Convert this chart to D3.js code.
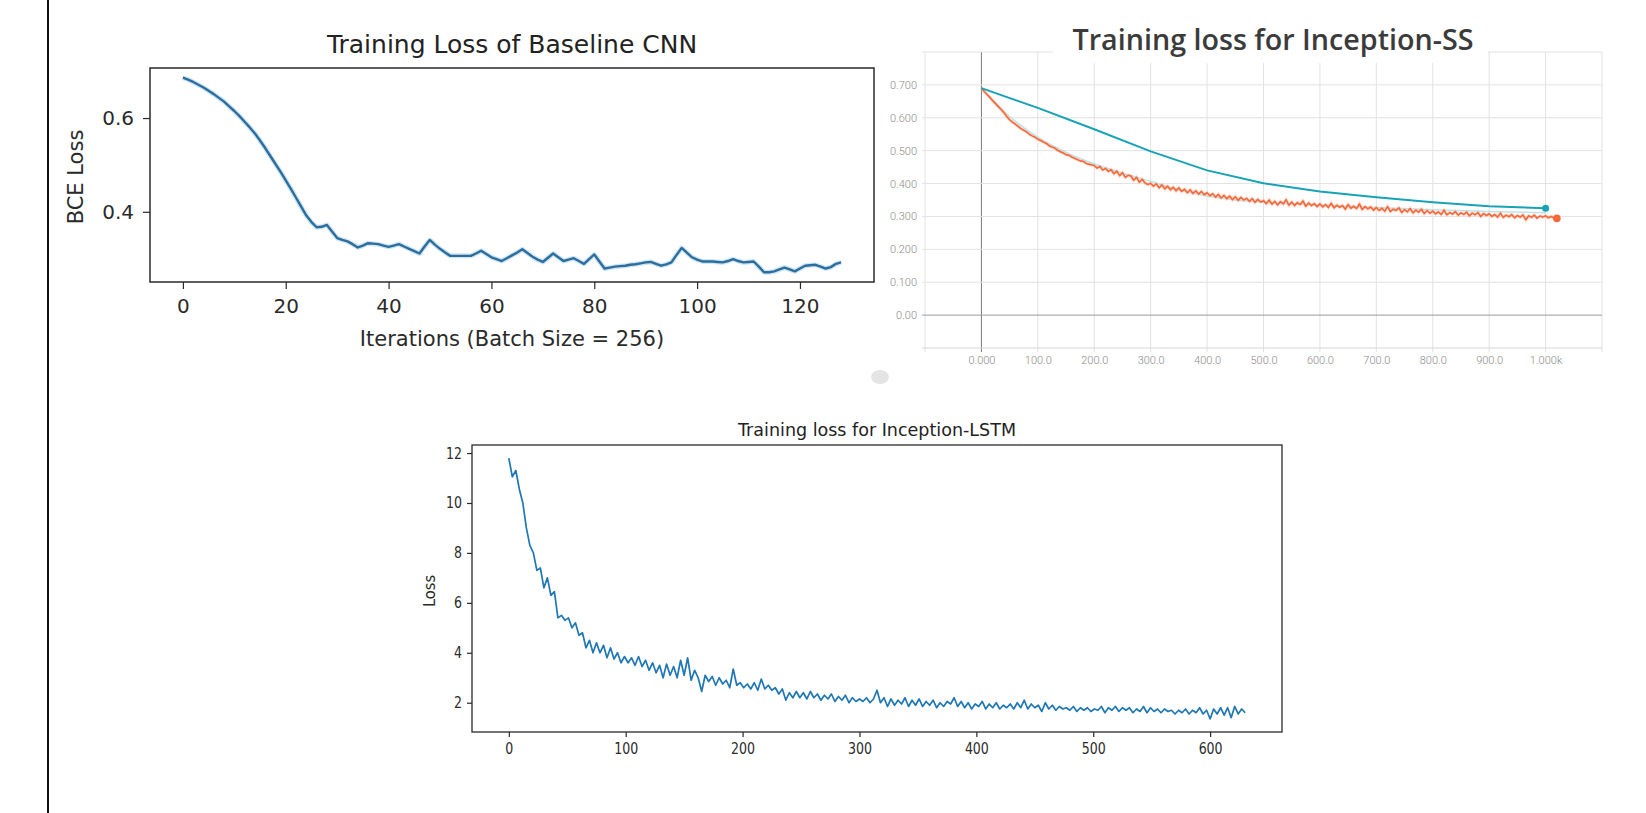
<!DOCTYPE html>
<html>
<head>
<meta charset="utf-8">
<script src="https://cdn.jsdelivr.net/npm/d3@7"></script>
<style>
body { margin: 0; background: #fff; }
svg { display: block; }
</style>
</head>
<body>
<svg id="chart" width="1646" height="813"></svg>
<script>
// ---- data ----

// Baseline CNN, one value per iteration (0..128)
const cnnLoss = [
  .686,.682,.677,.671,.665,.658,.651,.643,.635,.625,
  .615,.604,.592,.580,.567,.552,.536,.519,.502,.485,
  .467,.449,.430,.411,.392,.378,.367,.368,.372,.358,
  .344,.340,.337,.331,.324,.328,.333,.332,.331,.328,
  .325,.328,.331,.326,.321,.316,.311,.326,.340,.330,
  .321,.313,.306,.306,.306,.306,.306,.311,.317,.310,
  .303,.299,.295,.301,.307,.313,.320,.312,.304,.298,
  .293,.302,.311,.303,.295,.298,.301,.295,.289,.299,
  .309,.294,.279,.281,.283,.284,.285,.287,.288,.290,
  .292,.293,.289,.285,.288,.292,.308,.323,.313,.303,
  .298,.294,.294,.294,.293,.292,.295,.299,.295,.292,
  .293,.294,.283,.271,.271,.273,.277,.281,.277,.273,
  .279,.285,.286,.287,.283,.279,.282,.289,.292
];
const cnnXTicks = [0, 20, 40, 60, 80, 100, 120];
const cnnYTicks = [0.4, 0.6];

// Inception-SS (TensorBoard), orange run sampled every 5 steps (0..1020)
const ssStep = 5;
const ssOrange = [
  .690,.680,.671,.662,.652,.643,.634,.625,.615,.604,
  .594,.587,.581,.574,.567,.562,.557,.550,.545,.541,
  .535,.531,.526,.522,.515,.511,.508,.501,.497,.493,
  .488,.486,.481,.477,.473,.469,.468,.462,.459,.457,
  .455,.447,.452,.441,.446,.437,.442,.430,.438,.424,
  .433,.419,.425,.423,.410,.419,.404,.413,.402,.397,
  .401,.392,.399,.387,.396,.384,.392,.381,.389,.378,
  .387,.376,.383,.372,.381,.370,.378,.368,.376,.366,
  .372,.363,.369,.359,.367,.356,.364,.354,.362,.351,
  .360,.349,.358,.350,.355,.346,.354,.343,.352,.344,
  .348,.339,.350,.337,.346,.335,.345,.338,.351,.334,
  .344,.333,.342,.336,.347,.331,.341,.333,.339,.330,
  .338,.329,.336,.327,.340,.326,.334,.328,.333,.322,
  .336,.325,.331,.324,.338,.321,.330,.323,.329,.319,
  .327,.318,.325,.316,.330,.315,.322,.318,.326,.312,
  .321,.314,.324,.311,.319,.313,.322,.309,.318,.310,
  .316,.308,.314,.306,.319,.305,.312,.307,.315,.304,
  .311,.306,.313,.302,.310,.305,.312,.300,.309,.303,
  .308,.300,.306,.298,.310,.297,.304,.299,.306,.296,
  .303,.298,.305,.290,.302,.297,.304,.295,.301,.298,
  .302,.296,.300,.295,.294
];
// teal run, evaluated every 100 steps
const ssTealIter = [0, 100, 200, 300, 400, 500, 600, 700, 800, 900, 1000];
const ssTeal = [.690, .630, .565, .498, .440, .401, .376, .358, .343, .331, .325];
// faint smoothed trace under the orange run
const ssFaintIter = [0, 50, 100, 150, 200, 250, 300, 350, 400, 450, 500, 600, 700, 800, 900, 1000];
const ssFaint = [.690, .604, .541, .495, .460, .432, .407, .381, .362, .350, .343, .335, .327, .320, .315, .311];
const ssXTicks = [-100, 0, 100, 200, 300, 400, 500, 600, 700, 800, 900, 1000, 1100];
const ssXLabels = ["", "0.000", "100.0", "200.0", "300.0", "400.0", "500.0", "600.0", "700.0", "800.0", "900.0", "1.000k", ""];
const ssYTicks = [0, 0.1, 0.2, 0.3, 0.4, 0.5, 0.6, 0.7];
const ssYLabels = ["0.00", "0.100", "0.200", "0.300", "0.400", "0.500", "0.600", "0.700"];

// Inception-LSTM, sampled every 3 iterations (0..630)
const lstmStep = 3;
const lstmLoss = [
  11.80,11.05,11.30,10.55,10.00,9.00,8.30,8.00,7.30,7.40,
  6.60,7.00,6.30,6.45,5.40,5.50,5.30,5.40,5.00,5.20,
  4.70,4.80,4.20,4.50,4.00,4.40,4.00,4.30,3.80,4.20,
  3.75,4.00,3.60,3.85,3.60,3.80,3.50,3.85,3.45,3.70,
  3.30,3.60,3.20,3.50,3.00,3.55,3.10,3.45,3.00,3.70,
  3.10,3.80,2.90,3.30,3.00,2.45,3.10,2.85,3.05,2.70,
  3.00,2.75,2.90,2.60,3.35,2.70,2.80,2.60,2.75,2.55,
  2.80,2.50,2.95,2.55,2.70,2.50,2.60,2.35,2.55,2.10,
  2.40,2.20,2.45,2.20,2.40,2.15,2.45,2.20,2.35,2.10,
  2.30,2.15,2.35,2.05,2.25,2.10,2.30,2.00,2.20,2.05,
  2.15,2.05,2.20,2.00,2.15,2.50,2.00,2.20,1.85,2.15,
  1.90,2.10,1.95,2.20,1.85,2.10,1.90,2.15,1.85,2.05,
  1.90,2.10,1.80,2.00,1.85,2.05,1.95,2.20,1.85,2.05,
  1.80,2.00,1.75,1.95,1.85,2.05,1.75,1.95,1.80,2.00,
  1.75,1.90,1.80,1.95,1.75,2.00,1.80,2.10,1.75,1.95,
  1.80,1.90,1.65,2.00,1.75,1.90,1.70,1.85,1.75,1.80,
  1.70,1.85,1.65,1.80,1.70,1.80,1.65,1.75,1.70,1.85,
  1.60,1.80,1.70,1.85,1.65,1.80,1.70,1.80,1.60,1.75,
  1.65,1.85,1.60,1.80,1.65,1.75,1.60,1.75,1.65,1.70,
  1.55,1.70,1.60,1.75,1.55,1.70,1.60,1.80,1.55,1.70,
  1.35,1.75,1.55,1.80,1.50,1.80,1.40,1.85,1.55,1.75,
  1.60
];
const lstmXTicks = [0, 100, 200, 300, 400, 500, 600];
const lstmYTicks = [2, 4, 6, 8, 10, 12];

// ---- drawing ----
const svg = d3.select("#chart");
svg.append("rect").attr("width", 1646).attr("height", 813).attr("fill", "#fff");

// black rule down the left edge of the page
svg.append("line")
    .attr("x1", 48).attr("x2", 48).attr("y1", 0).attr("y2", 813)
    .attr("stroke", "#111").attr("stroke-width", 2);

// matplotlib style autoscale: 5% margin on both ends
function padded(ext) {
    let m = (ext[1] - ext[0]) * 0.05;
    return [ext[0] - m, ext[1] + m];
}

function styleAxis(g, font, size, color) {
    g.select(".domain").remove();
    g.attr("font-family", font).attr("font-size", size);
    g.selectAll("line").attr("stroke", color).attr("stroke-width", 1.2);
    g.selectAll("text").attr("fill", color);
}

// ===== panel 1 : Baseline CNN =====
let p1 = {left: 150, right: 874, top: 68, bottom: 282};
let x1 = d3.scaleLinear().domain(padded([0, cnnLoss.length - 1])).range([p1.left, p1.right]);
let y1 = d3.scaleLinear().domain(padded(d3.extent(cnnLoss))).range([p1.bottom, p1.top]);
let g1 = svg.append("g");

let line1 = d3.line().x((d, i) => x1(i)).y(d => y1(d));
g1.append("path").datum(cnnLoss)
    .attr("d", line1).attr("fill", "none")
    .attr("stroke", "#cfe6f5").attr("stroke-width", 5).attr("stroke-linejoin", "round");
g1.append("path").datum(cnnLoss)
    .attr("d", line1).attr("fill", "none")
    .attr("stroke", "#2d6d9c").attr("stroke-width", 2.4).attr("stroke-linejoin", "round");

g1.append("rect")
    .attr("x", p1.left).attr("y", p1.top)
    .attr("width", p1.right - p1.left).attr("height", p1.bottom - p1.top)
    .attr("fill", "none").attr("stroke", "#2a2a2a").attr("stroke-width", 1.5);

let ax1 = g1.append("g").attr("transform", "translate(0," + p1.bottom + ")")
    .call(d3.axisBottom(x1).tickValues(cnnXTicks).tickSize(7).tickPadding(10));
styleAxis(ax1, "DejaVu Sans", 20, "#2a2a2a");
let ay1 = g1.append("g").attr("transform", "translate(" + p1.left + ",0)")
    .call(d3.axisLeft(y1).tickValues(cnnYTicks).tickFormat(d3.format(".1f")).tickSize(7).tickPadding(9));
styleAxis(ay1, "DejaVu Sans", 20, "#2a2a2a");

g1.append("text").text("Training Loss of Baseline CNN")
    .attr("x", (p1.left + p1.right) / 2).attr("y", 53)
    .attr("text-anchor", "middle").attr("font-family", "DejaVu Sans")
    .attr("font-size", 25).attr("fill", "#222");
g1.append("text").text("Iterations (Batch Size = 256)")
    .attr("x", (p1.left + p1.right) / 2).attr("y", 346)
    .attr("text-anchor", "middle").attr("font-family", "DejaVu Sans")
    .attr("font-size", 21).attr("fill", "#2a2a2a");
g1.append("text").text("BCE Loss")
    .attr("transform", "translate(83," + ((p1.top + p1.bottom) / 2 + 2) + ") rotate(-90)")
    .attr("text-anchor", "middle").attr("font-family", "DejaVu Sans")
    .attr("font-size", 21).attr("fill", "#2a2a2a");

// ===== panel 2 : Inception-SS (TensorBoard screenshot) =====
let p2 = {left: 925, right: 1602, top: 52, bottom: 348};
let x2 = d3.scaleLinear().domain([-100, 1100]).range([p2.left, p2.right]);
let y2 = d3.scaleLinear().domain([-0.1, 0.8]).range([p2.bottom, p2.top]);
let g2 = svg.append("g");

// grid
g2.selectAll(".vgrid").data(ssXTicks).join("line")
    .attr("x1", d => x2(d)).attr("x2", d => x2(d))
    .attr("y1", p2.top).attr("y2", p2.bottom + 4)
    .attr("stroke", d => d === 0 ? "#7a7a7a" : "#e2e2e2").attr("stroke-width", 1);
g2.selectAll(".hgrid").data(ssYTicks.concat([0.8])).join("line")
    .attr("x1", p2.left - 3).attr("x2", p2.right)
    .attr("y1", d => y2(d)).attr("y2", d => y2(d))
    .attr("stroke", d => d === 0 ? "#9a9a9a" : "#e2e2e2").attr("stroke-width", 1);
g2.append("line")
    .attr("x1", p2.left - 3).attr("x2", p2.right)
    .attr("y1", p2.bottom).attr("y2", p2.bottom)
    .attr("stroke", "#d6d6d6");

// tick labels
let ay2 = g2.append("g").attr("transform", "translate(" + p2.left + ",0)")
    .call(d3.axisLeft(y2).tickValues(ssYTicks).tickSize(0).tickPadding(8)
        .tickFormat((d, i) => ssYLabels[i]));
ay2.select(".domain").remove();
ay2.attr("font-family", "Roboto").attr("font-size", 11).attr("font-weight", 300);
ay2.selectAll("text").attr("fill", "#8a8a8a");
let ax2 = g2.append("g").attr("transform", "translate(0," + p2.bottom + ")")
    .call(d3.axisBottom(x2).tickValues(ssXTicks).tickSize(0).tickPadding(8)
        .tickFormat((d, i) => ssXLabels[i]));
ax2.select(".domain").remove();
ax2.attr("font-family", "Roboto").attr("font-size", 11).attr("font-weight", 300);
ax2.selectAll("text").attr("fill", "#8a8a8a");

// series
g2.append("path").datum(ssFaint)
    .attr("d", d3.line().curve(d3.curveMonotoneX).x((d, i) => x2(ssFaintIter[i])).y(d => y2(d)))
    .attr("fill", "none").attr("stroke", "#b9e6ee").attr("stroke-width", 1.5);
let lineSS = d3.line().x((d, i) => x2(i * ssStep)).y(d => y2(d));
g2.append("path").datum(ssOrange)
    .attr("d", lineSS).attr("fill", "none")
    .attr("stroke", "#ffb49a").attr("stroke-width", 3.4).attr("opacity", 0.45);
g2.append("path").datum(ssOrange)
    .attr("d", lineSS).attr("fill", "none")
    .attr("stroke", "#f4683a").attr("stroke-width", 1.6).attr("stroke-linejoin", "round");
g2.append("path").datum(ssTeal)
    .attr("d", d3.line().x((d, i) => x2(ssTealIter[i])).y(d => y2(d)))
    .attr("fill", "none").attr("stroke", "#17a2b5").attr("stroke-width", 2);
g2.append("circle")
    .attr("cx", x2(ssTealIter[ssTealIter.length - 1])).attr("cy", y2(ssTeal[ssTeal.length - 1]))
    .attr("r", 3.5).attr("fill", "#17a2b5");
g2.append("circle")
    .attr("cx", x2((ssOrange.length - 1) * ssStep)).attr("cy", y2(ssOrange[ssOrange.length - 1]))
    .attr("r", 3.8).attr("fill", "#f4683a");

// title sits on a white patch over the top border
g2.append("rect").attr("x", 1053).attr("y", 0).attr("width", 435).attr("height", 63).attr("fill", "#fff");
g2.append("text").text("Training loss for Inception-SS")
    .attr("x", 1273).attr("y", 50).attr("text-anchor", "middle")
    .attr("font-family", "Open Sans").attr("font-weight", 600).attr("font-size", 29)
    .attr("textLength", 401).attr("lengthAdjust", "spacingAndGlyphs")
    .attr("fill", "#3b3b3b");
// small grey blob left over from the screenshot
g2.append("ellipse").attr("cx", 880).attr("cy", 377).attr("rx", 9).attr("ry", 7).attr("fill", "#e4e4e4");

// ===== panel 3 : Inception-LSTM =====
let p3 = {left: 472, right: 1282, top: 445, bottom: 732};
let x3 = d3.scaleLinear().domain(padded([0, (lstmLoss.length - 1) * lstmStep])).range([p3.left, p3.right]);
let y3 = d3.scaleLinear().domain(padded(d3.extent(lstmLoss))).range([p3.bottom, p3.top]);
let g3 = svg.append("g");

g3.append("path").datum(lstmLoss)
    .attr("d", d3.line().x((d, i) => x3(i * lstmStep)).y(d => y3(d)))
    .attr("fill", "none").attr("stroke", "#1f77b4").attr("stroke-width", 1.7)
    .attr("stroke-linejoin", "round");
g3.append("rect")
    .attr("x", p3.left).attr("y", p3.top)
    .attr("width", p3.right - p3.left).attr("height", p3.bottom - p3.top)
    .attr("fill", "none").attr("stroke", "#2a2a2a").attr("stroke-width", 1.3);

// this panel was squeezed sideways, so its text is narrowed too
function squeeze(g, k) {
    g.selectAll("text").each(function () {
        let t = d3.select(this);
        let x = +t.attr("x") || 0;
        t.attr("x", 0).attr("transform", "translate(" + x + ",0) scale(" + k + ",1)");
    });
}
let ax3 = g3.append("g").attr("transform", "translate(0," + p3.bottom + ")")
    .call(d3.axisBottom(x3).tickValues(lstmXTicks).tickSize(5).tickPadding(6));
styleAxis(ax3, "DejaVu Sans", 15.5, "#2a2a2a");
squeeze(ax3, 0.81);
let ay3 = g3.append("g").attr("transform", "translate(" + p3.left + ",0)")
    .call(d3.axisLeft(y3).tickValues(lstmYTicks).tickSize(5).tickPadding(5));
styleAxis(ay3, "DejaVu Sans", 15.5, "#2a2a2a");
squeeze(ay3, 0.81);

g3.append("text").text("Training loss for Inception-LSTM")
    .attr("x", (p3.left + p3.right) / 2).attr("y", 436).attr("text-anchor", "middle")
    .attr("font-family", "DejaVu Sans").attr("font-size", 18)
    .attr("textLength", 278).attr("lengthAdjust", "spacingAndGlyphs")
    .attr("fill", "#222");
g3.append("text").text("Loss")
    .attr("transform", "translate(435,591) rotate(-90)")
    .attr("text-anchor", "middle").attr("font-family", "DejaVu Sans").attr("font-size", 16)
    .attr("textLength", 32).attr("lengthAdjust", "spacingAndGlyphs")
    .attr("fill", "#2a2a2a");
</script>
</body>
</html>
